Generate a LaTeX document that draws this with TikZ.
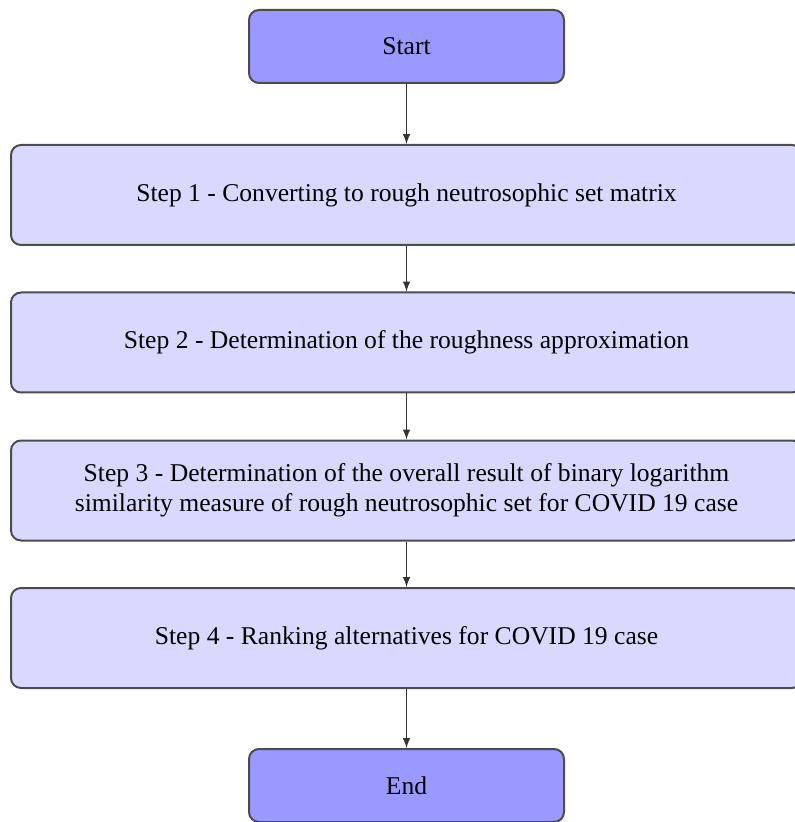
\documentclass[tikz,border=0pt]{standalone}
\usepackage{fontspec}
\setmainfont{Liberation Serif}
\usepackage{tikz}

\begin{document}
\begin{tikzpicture}[x=0.5pt, y=-0.5pt, font=\fontsize{12.8}{15}\selectfont, term/.style={draw=black!70, fill=blue!40, rounded corners=5pt, line width=1pt, minimum width=157.5pt, minimum height=36.5pt, align=center}, stepbox/.style={draw=black!70, fill=blue!15, rounded corners=5pt, line width=1pt, minimum width=395.5pt, minimum height=50pt, align=center}, n/.style={-latex, line width=0.7pt, black!80}]
            \useasboundingbox (0,0) rectangle (795,822);
            % nodes
            \node[term] (start) at (406.5,46.5) {Start};
            \node[stepbox] (s1) at (406.5,195) {Step 1 - Converting to rough neutrosophic set matrix};
            \node[stepbox] (s2) at (406.5,342.5) {Step 2 - Determination of the roughness approximation};
            \node[stepbox] (s3) at (406.5,490.5) {Step 3 - Determination of the overall result of binary logarithm\\similarity measure of rough neutrosophic set for COVID 19 case};
            \node[stepbox] (s4) at (406.5,638) {Step 4 - Ranking alternatives for COVID 19 case};
            \node[term] (end) at (406.5,785.5) {End};
            % edges
            \draw [n] (start) -- (s1);
            \draw [n] (s1) -- (s2);
            \draw [n] (s2) -- (s3);
            \draw [n] (s3) -- (s4);
            \draw [n] (s4) -- (end);
        \end{tikzpicture}
\end{document}
